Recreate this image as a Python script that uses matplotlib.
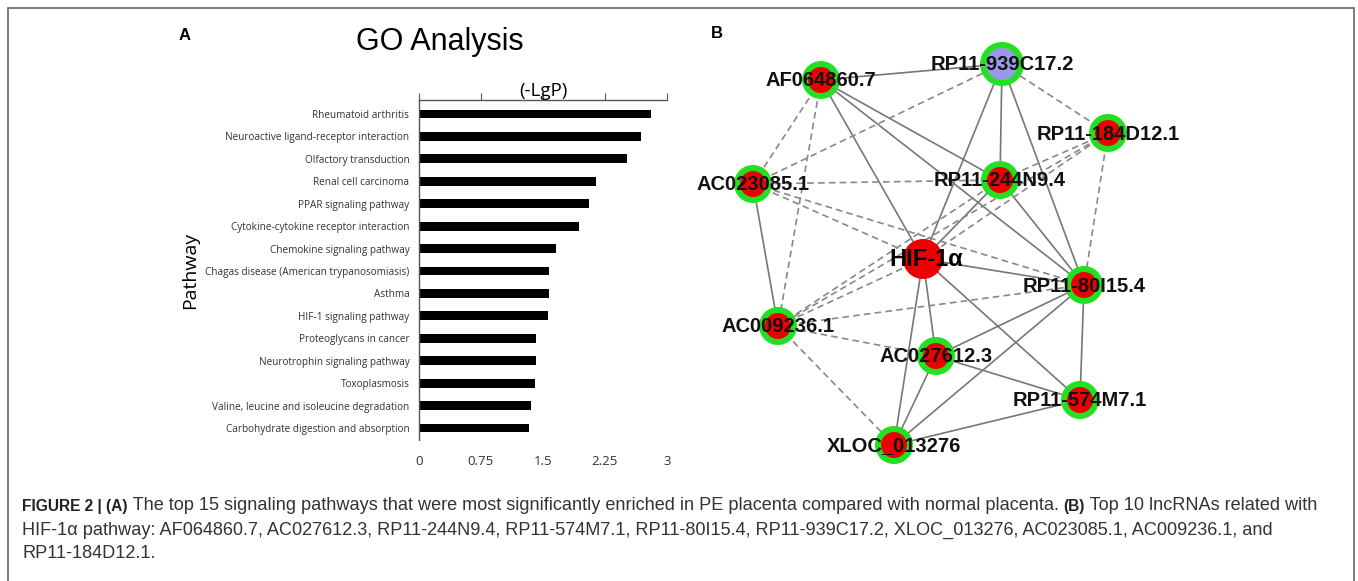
import numpy as np
import matplotlib.pyplot as plt
from matplotlib.patches import Circle, Rectangle

# ---- Panel A data: GO pathway enrichment (-LgP) ----
pathways = [
    'Rheumatoid arthritis',
    'Neuroactive ligand-receptor interaction',
    'Olfactory transduction',
    'Renal cell carcinoma',
    'PPAR signaling pathway',
    'Cytokine-cytokine receptor interaction',
    'Chemokine signaling pathway',
    'Chagas disease (American trypanosomiasis)',
    'Asthma',
    'HIF-1 signaling pathway',
    'Proteoglycans in cancer',
    'Neurotrophin signaling pathway',
    'Toxoplasmosis',
    'Valine, leucine and isoleucine degradation',
    'Carbohydrate digestion and absorption',
]
lgp = [2.81, 2.68, 2.52, 2.14, 2.06, 1.93, 1.66, 1.57, 1.57, 1.56, 1.41, 1.41, 1.40, 1.35, 1.33]
x_ticks = [0, 0.75, 1.5, 2.25, 3]
x_ticklabels = ['0', '0.75', '1.5', '2.25', '3']

# ---- Panel B data: lncRNA / HIF-1a network (layout in pixel units) ----
node_names = ['RP11-939C17.2', 'AF064860.7', 'RP11-184D12.1', 'AC023085.1', 'RP11-244N9.4',
              'HIF-1α', 'RP11-80I15.4', 'AC009236.1', 'AC027612.3', 'RP11-574M7.1', 'XLOC_013276']
node_x = [1002, 821, 1108, 753, 1000, 923, 1084, 778, 936, 1080, 894]
node_y = [64, 80, 133, 184, 180, 259, 285, 326, 356, 400, 445]
node_kind = ['hub', 'lnc', 'lnc', 'lnc', 'lnc', 'gene', 'lnc', 'lnc', 'lnc', 'lnc', 'lnc']

solid_edges = [
    ('AF064860.7', 'RP11-939C17.2'), ('AF064860.7', 'HIF-1α'), ('AF064860.7', 'RP11-244N9.4'),
    ('AF064860.7', 'RP11-80I15.4'), ('RP11-939C17.2', 'RP11-244N9.4'), ('RP11-939C17.2', 'HIF-1α'),
    ('RP11-939C17.2', 'RP11-80I15.4'), ('AC023085.1', 'AC009236.1'), ('RP11-244N9.4', 'HIF-1α'),
    ('RP11-244N9.4', 'RP11-80I15.4'), ('HIF-1α', 'RP11-80I15.4'), ('HIF-1α', 'AC027612.3'),
    ('HIF-1α', 'XLOC_013276'), ('HIF-1α', 'RP11-574M7.1'), ('RP11-80I15.4', 'AC027612.3'),
    ('RP11-80I15.4', 'XLOC_013276'), ('RP11-80I15.4', 'RP11-574M7.1'), ('AC027612.3', 'XLOC_013276'),
    ('AC027612.3', 'RP11-574M7.1'), ('XLOC_013276', 'RP11-574M7.1'),
]
dashed_edges = [
    ('AF064860.7', 'AC023085.1'), ('AF064860.7', 'AC009236.1'), ('RP11-939C17.2', 'AC023085.1'),
    ('RP11-939C17.2', 'RP11-184D12.1'), ('RP11-184D12.1', 'RP11-244N9.4'), ('RP11-184D12.1', 'RP11-80I15.4'),
    ('RP11-184D12.1', 'AC009236.1'), ('RP11-184D12.1', 'HIF-1α'), ('AC023085.1', 'RP11-244N9.4'),
    ('AC023085.1', 'HIF-1α'), ('AC023085.1', 'RP11-80I15.4'), ('AC009236.1', 'HIF-1α'),
    ('AC009236.1', 'RP11-244N9.4'), ('AC009236.1', 'RP11-80I15.4'), ('AC009236.1', 'AC027612.3'),
    ('AC009236.1', 'XLOC_013276'),
]

caption_lines = [
    [('FIGURE 2 | (A)', True),
     (' The top 15 signaling pathways that were most significantly enriched in PE placenta compared with normal placenta. ', False),
     ('(B)', True), (' Top 10 lncRNAs related with', False)],
    [('HIF-1α pathway: AF064860.7, AC027612.3, RP11-244N9.4, RP11-574M7.1, RP11-80I15.4, RP11-939C17.2, '
      'XLOC_013276, AC023085.1, AC009236.1, and', False)],
    [('RP11-184D12.1.', False)],
]

W, H = 1358, 581
fig = plt.figure(figsize=(W / 100, H / 100), dpi=100)


def fx(px):
    return px / W


def fy(py):
    return 1 - py / H


# outer frame
fig.patches.append(Rectangle((fx(8), fy(590)), fx(1354) - fx(8), fy(8) - fy(590),
                             transform=fig.transFigure, fill=False, edgecolor='#666666', lw=1.2))

# ---- Panel A ----
ax1 = fig.add_axes([fx(419), fy(440), fx(667) - fx(419), fy(100) - fy(440)])
ypos = np.arange(len(pathways))
ax1.barh(ypos, lgp, height=0.4, color='black')
ax1.set_xlim(0, 3)
ax1.set_ylim(14.535, -0.624)
ax1.set_yticks(ypos)
ax1.set_yticklabels(pathways, fontsize=7.2, color='#333333', family='Open Sans')
ax1.tick_params(axis='y', length=0, pad=7)
ax1.set_xticks(x_ticks)
ax1.set_xticklabels(x_ticklabels, fontsize=9.5, color='#333333', family='Open Sans')
ax1.tick_params(axis='x', top=True, bottom=False, labeltop=False, labelbottom=True,
                direction='out', length=5, color='#555555', pad=6)
for side in ['right', 'bottom']:
    ax1.spines[side].set_visible(False)
for side in ['left', 'top']:
    ax1.spines[side].set_color('#555555')
    ax1.spines[side].set_linewidth(1.0)

fig.text(fx(543), fy(91), '(-LgP)', fontsize=13.5, ha='center', va='center', family='Open Sans')
fig.text(fx(440), fy(42), 'GO Analysis', fontsize=22, ha='center', va='center', family='Liberation Sans')
fig.text(fx(190), fy(270), 'Pathway', fontsize=14, rotation=90, ha='center', va='center', family='Open Sans')
fig.text(fx(185), fy(36), 'A', fontsize=12, fontweight='bold', ha='center', va='center', family='Liberation Sans')
fig.text(fx(717), fy(33), 'B', fontsize=12, fontweight='bold', ha='center', va='center', family='Liberation Sans')

# ---- Panel B ----
x0, x1, y0, y1 = 690, 1200, 30, 470
ax2 = fig.add_axes([fx(x0), fy(y1), fx(x1) - fx(x0), fy(y0) - fy(y1)])
ax2.set_xlim(x0, x1)
ax2.set_ylim(y1, y0)
ax2.set_aspect('equal')
ax2.axis('off')

pos = {n: (x, y) for n, x, y in zip(node_names, node_x, node_y)}
for a, b in solid_edges:
    ax2.plot([pos[a][0], pos[b][0]], [pos[a][1], pos[b][1]], color='#777777', lw=1.2, zorder=1)
for a, b in dashed_edges:
    ax2.plot([pos[a][0], pos[b][0]], [pos[a][1], pos[b][1]], color='#888888', lw=1.2,
             ls=(0, (4, 2.5)), zorder=1)

for n, x, y, k in zip(node_names, node_x, node_y, node_kind):
    if k == 'gene':
        ax2.add_patch(Circle((x, y), 20, facecolor='#ee0000', edgecolor='none', zorder=2))
        ax2.text(x + 3, y, n, fontsize=17, fontweight='bold', ha='center', va='center',
                 family='Liberation Sans', zorder=4)
    else:
        r_out, r_in, fc = (22, 16, '#9a9aea') if k == 'hub' else (19, 13, '#ee0000')
        ax2.add_patch(Circle((x, y), r_out, facecolor='#22e022', edgecolor='none', zorder=2))
        ax2.add_patch(Circle((x, y), r_in, facecolor=fc, edgecolor='none', zorder=3))
        ax2.text(x, y + 1, n, fontsize=14.5, fontweight='bold', ha='center', va='center',
                 family='Liberation Sans', color='#111111', zorder=4)

# ---- Caption ----
fig.canvas.draw()
renderer = fig.canvas.get_renderer()
line_y = [506, 530, 554]
for parts, py in zip(caption_lines, line_y):
    cx = 22
    for txt, bold in parts:
        if bold:
            t = fig.text(fx(cx), fy(py), txt, fontsize=11.2, ha='left', va='center',
                         family='Liberation Sans', fontweight='bold', color='#222222')
        else:
            t = fig.text(fx(cx), fy(py), txt, fontsize=13.1, ha='left', va='center',
                         family='Liberation Sans', color='#333333')
        bb = t.get_window_extent(renderer=renderer)
        cx += bb.width

fig.savefig('out.png', dpi=100)
